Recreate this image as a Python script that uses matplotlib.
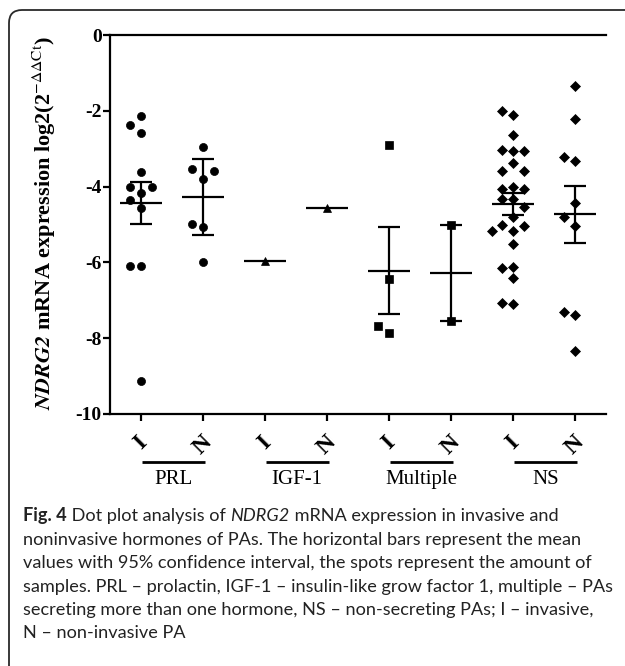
import numpy as np
import matplotlib
matplotlib.use('Agg')
import matplotlib.pyplot as plt
from matplotlib.patches import FancyBboxPatch
import matplotlib.transforms as mtransforms

# ---------------- data ----------------
categories = ['PRL', 'IGF-1', 'Multiple', 'NS']
subgroups = ['I', 'N']

prl_I = [-2.14, -2.37, -2.59, -3.62, -4.16, -4.00, -4.00, -4.35, -4.56, -6.09, -6.09, -9.12]
prl_N = [-2.96, -3.80, -3.54, -3.59, -5.06, -4.99, -6.00]
igf_I = [-5.95]
igf_N = [-4.57]
mult_I = [-2.90, -6.43, -7.87, -7.67]
mult_N = [-5.00, -7.55]
ns_I = [-2.11, -2.00, -2.64, -3.05, -3.03, -3.05, -3.39, -3.59, -3.59, -4.02, -4.07,
        -4.07, -4.34, -4.34, -4.53, -4.79, -5.01, -5.05, -5.16, -5.18, -5.52, -6.11,
        -6.14, -6.42, -7.10, -7.08]
ns_N = [-1.35, -2.22, -3.32, -3.23, -4.44, -5.04, -4.79, -7.39, -7.30, -8.33]

means = [-4.42, -4.27, -5.95, -4.57, -6.22, -6.28, -4.46, -4.73]
ci_low = [-4.99, -5.29, np.nan, np.nan, -7.35, -7.55, -4.75, -5.48]
ci_high = [-3.87, -3.27, np.nan, np.nan, -5.07, -5.00, -4.18, -3.98]

y_ticks = [0, -2, -4, -6, -8, -10]

# caption: list of lines, each a list of (text, weight, style) runs
caption_lines = [
    [('Fig. 4', 'bold', 'normal'), (' Dot plot analysis of ', 'normal', 'normal'),
     ('NDRG2', 'normal', 'italic'), (' mRNA expression in invasive and', 'normal', 'normal')],
    [('noninvasive hormones of PAs. The horizontal bars represent the mean', 'normal', 'normal')],
    [('values with 95% confidence interval, the spots represent the amount of', 'normal', 'normal')],
    [('samples. PRL \u2013 prolactin, IGF-1 \u2013 insulin-like grow factor 1, multiple \u2013 PAs',
      'normal', 'normal')],
    [('secreting more than one hormone, NS \u2013 non-secreting PAs; I \u2013 invasive,',
      'normal', 'normal')],
    [('N \u2013 non-invasive PA', 'normal', 'normal')],
]

# ---------------- styling ----------------
plt.rcParams['axes.unicode_minus'] = False

SERIF = 'Liberation Serif'
CAPFONT = 'Lato'
W, H = 625, 666
fig = plt.figure(figsize=(W / 100, H / 100), dpi=100)

# rounded frame around the figure (cropped right and bottom)
frame = FancyBboxPatch((0.09, -0.5), 7.0, 6.56 + 0.5, boxstyle='round,pad=0,rounding_size=0.13',
                       transform=fig.dpi_scale_trans, fill=False, edgecolor='#2a2a2a',
                       linewidth=1.3)
fig.patches.append(frame)

ax = fig.add_axes([110 / W, 1 - 414 / H, 496 / W, 379 / H])

series = [prl_I, prl_N, igf_I, igf_N, mult_I, mult_N, ns_I, ns_N]
cat_markers = {'PRL': ('o', 5.8), 'IGF-1': ('^', 5.5), 'Multiple': ('s', 5.6), 'NS': ('D', 5.2)}


def swarm_offsets(vals, step=0.17, thr=0.265):
    placed = []
    offs = []
    cands = [0, -1, 1, -2, 2, -3, 3]
    for v in vals:
        chosen = cands[-1]
        for c in cands:
            if all(not (pc == c and abs(pv - v) < thr) for pv, pc in placed):
                chosen = c
                break
        placed.append((v, chosen))
        offs.append(chosen * step)
    return offs


positions = np.arange(1, len(series) + 1)
tick_labels = []
for i, vals in enumerate(series):
    cat = categories[i // 2]
    tick_labels.append(subgroups[i % 2])
    mk, ms = cat_markers[cat]
    x = positions[i] + np.array(swarm_offsets(vals))
    ax.plot(x, vals, linestyle='none', marker=mk, markersize=ms, color='black',
            markeredgewidth=0.5, zorder=3, clip_on=False)
    ax.hlines(means[i], positions[i] - 0.34, positions[i] + 0.34, color='black',
              linewidth=1.6, zorder=4)
    if not np.isnan(ci_low[i]):
        ax.vlines(positions[i], ci_low[i], ci_high[i], color='black', linewidth=1.6, zorder=4)
        ax.hlines([ci_low[i], ci_high[i]], positions[i] - 0.18, positions[i] + 0.18,
                  color='black', linewidth=1.6, zorder=4)

ax.set_xlim(0.5, 8.5)
ax.set_ylim(-10, 0)
ax.set_yticks(y_ticks)
ax.set_yticklabels([str(t) for t in y_ticks], fontfamily=SERIF, fontweight='bold', fontsize=14)
ax.set_xticks(positions)
ax.set_xticklabels(tick_labels, fontfamily=SERIF, fontweight='bold', fontsize=17, rotation=45,
                   ha='center', va='top')
ax.tick_params(axis='y', length=5, width=1.6, pad=1, direction='out')
ax.tick_params(axis='x', length=5, width=1.6, pad=8, direction='out')
for s in ['left', 'bottom', 'top']:
    ax.spines[s].set_linewidth(1.6)
ax.spines['right'].set_visible(False)
ax.set_facecolor('none')

# group underline + group names
trans = mtransforms.blended_transform_factory(ax.transData, ax.transAxes)
for g, name in enumerate(categories):
    x0, x1 = positions[2 * g], positions[2 * g + 1]
    ax.plot([x0 + 0.02, x1 + 0.04], [-0.1266, -0.1266], transform=trans, color='black',
            linewidth=2.0, clip_on=False, solid_capstyle='butt')
    ax.text((x0 + x1) / 2 + 0.02, -0.172, name, transform=trans, ha='center', va='center',
            fontfamily=SERIF, fontsize=15, clip_on=False)

# y label
fig.text(44 / W, 1 - 223 / H,
         r'$\mathbfit{NDRG2}$ mRNA expression log2(2$^{-\Delta\Delta \mathrm{Ct}}$)',
         rotation=90, ha='center', va='center', fontfamily=SERIF, fontweight='bold',
         fontsize=16, math_fontfamily='stix')

# caption, composed run by run; font size fitted so the widest line spans the text block
renderer = fig.canvas.get_renderer()
base = 12.0
probe = fig.text(0, 0, caption_lines[3][0][0], fontfamily=CAPFONT, fontsize=base)
probe_w = probe.get_window_extent(renderer).width
probe.remove()
cap_size = base * 588.0 / probe_w

cap_y = [516, 540, 563, 587, 610, 633]
for yy, runs in zip(cap_y, caption_lines):
    xpix = 23.0
    for txt, wt, st in runs:
        t = fig.text(xpix / W, 1 - yy / H, txt, ha='left', va='center', fontfamily=CAPFONT,
                     fontweight=wt, fontstyle=st, fontsize=cap_size, color='#222222')
        bb = t.get_window_extent(renderer)
        xpix += bb.width

fig.savefig('out.png', dpi=100)
